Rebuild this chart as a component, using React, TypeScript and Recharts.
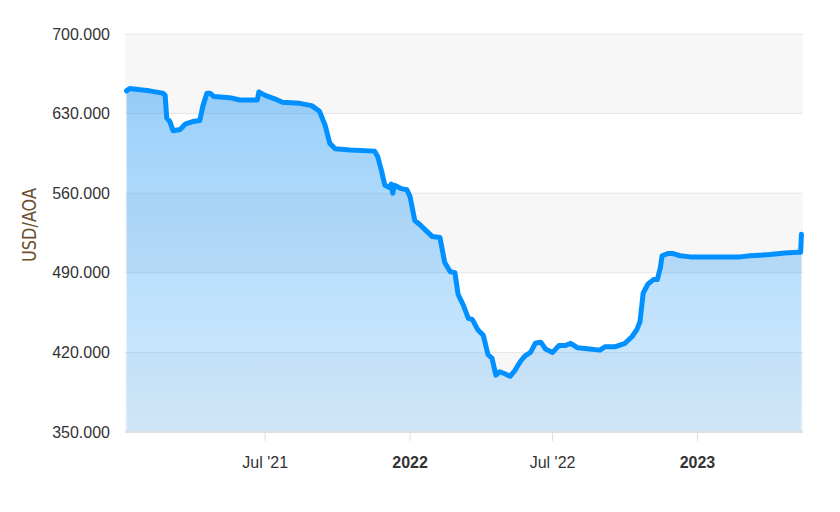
import React from "react";
import {
  AreaChart,
  Area,
  XAxis,
  YAxis,
  CartesianGrid,
} from "recharts";

const dates = [
  "2021-01-06", "2021-01-10", "2021-01-23", "2021-02-04", "2021-02-21", "2021-02-24",
  "2021-02-26", "2021-03-02", "2021-03-06", "2021-03-15", "2021-03-22", "2021-03-31",
  "2021-04-09", "2021-04-13", "2021-04-18", "2021-04-22", "2021-04-27", "2021-05-17",
  "2021-05-30", "2021-06-21", "2021-06-23", "2021-07-01", "2021-07-13", "2021-07-23",
  "2021-08-14", "2021-08-29", "2021-09-08", "2021-09-15", "2021-09-21", "2021-09-28",
  "2021-10-17", "2021-11-17", "2021-11-21", "2021-11-26", "2021-11-30", "2021-12-06",
  "2021-12-08", "2021-12-10", "2021-12-12", "2021-12-15", "2021-12-21", "2021-12-28",
  "2022-01-01", "2022-01-07", "2022-01-14", "2022-01-20", "2022-01-29", "2022-02-08",
  "2022-02-14", "2022-02-21", "2022-02-27", "2022-03-03", "2022-03-10", "2022-03-16",
  "2022-03-21", "2022-03-28", "2022-04-04", "2022-04-10", "2022-04-15", "2022-04-20",
  "2022-04-25", "2022-05-02", "2022-05-08", "2022-05-14", "2022-05-21", "2022-05-27",
  "2022-06-03", "2022-06-09", "2022-06-16", "2022-06-22", "2022-07-01", "2022-07-09",
  "2022-07-17", "2022-07-24", "2022-08-02", "2022-08-17", "2022-08-30", "2022-09-06",
  "2022-09-19", "2022-10-01", "2022-10-10", "2022-10-16", "2022-10-20", "2022-10-24",
  "2022-10-30", "2022-11-06", "2022-11-11", "2022-11-15", "2022-11-17", "2022-11-25",
  "2022-11-30", "2022-12-10", "2022-12-23", "2023-01-17", "2023-01-30", "2023-02-24",
  "2023-03-09", "2023-04-03", "2023-04-22", "2023-05-08", "2023-05-12", "2023-05-13",
];

const rates = [
  650, 652, 651, 650, 648, 646,
  626, 623, 615, 616, 621, 623,
  624, 637, 648, 648, 645, 644,
  642, 642, 649, 646, 643, 640,
  639, 637, 632, 620, 604, 599,
  598, 597, 592, 579, 567, 565,
  568, 560, 567, 566, 564, 563,
  557, 536, 532, 528, 522, 521,
  499, 491, 490, 471, 461, 450,
  449, 440, 435, 418, 415, 400,
  403, 401, 399, 404, 412, 417,
  420, 428, 429, 423, 420, 426,
  426, 428, 424, 423, 422, 425,
  425, 428, 434, 440, 447, 472,
  480, 484, 484, 495, 505, 507,
  507, 505, 504, 504, 504, 504,
  505, 506, 507.5, 508, 508, 524,
];

const yTicks = [350, 420, 490, 560, 630, 700];
const xTickDates = ["2021-07-01", "2022-01-01", "2022-07-01", "2023-01-01"];

const MONTHS = ["Jan", "Feb", "Mar", "Apr", "May", "Jun", "Jul", "Aug", "Sep", "Oct", "Nov", "Dec"];
const FONT = "'Liberation Sans', Arial, sans-serif";

const ts = (s: string) => {
  const [y, m, d] = s.split("-").map(Number);
  return Date.UTC(y, m - 1, d);
};

const data = dates.map((d, i) => ({ t: ts(d), rate: rates[i] }));
const xTicks = xTickDates.map(ts);

function XTick(props: any) {
  const { x, y, payload } = props;
  const dt = new Date(payload.value);
  const isYear = dt.getUTCMonth() === 0;
  const label = isYear
    ? String(dt.getUTCFullYear())
    : `${MONTHS[dt.getUTCMonth()]} '${String(dt.getUTCFullYear()).slice(2)}`;
  return (
    <text
      x={x}
      y={y + 25}
      textAnchor="middle"
      fill="#333333"
      fontSize={16}
      fontWeight={isYear ? 700 : 400}
      fontFamily={FONT}
    >
      {label}
    </text>
  );
}

function YLabel() {
  return (
    <text
      x={0}
      y={0}
      transform="translate(36, 225) rotate(-90)"
      textAnchor="middle"
      fill="#6b4f2e"
      fontSize={19}
      fontFamily="'DejaVu Sans Condensed', 'Liberation Sans Narrow', sans-serif"
      textLength={74}
      lengthAdjust="spacingAndGlyphs"
    >
      USD/AOA
    </text>
  );
}

export default function App() {
  return (
    <div style={{ position: "absolute", left: 0, top: 0, width: 840, height: 512, background: "#fff" }}>
      <AreaChart
        width={840}
        height={512}
        data={data}
        margin={{ top: 34, right: 37, bottom: 50, left: 0 }}
      >
        <defs>
          <linearGradient id="fillGrad" x1="0" y1="0" x2="0" y2="1">
            <stop offset="0%" stopColor="rgb(30,150,245)" stopOpacity={0.45} />
            <stop offset="100%" stopColor="rgb(30,150,245)" stopOpacity={0.18} />
          </linearGradient>
        </defs>
        <CartesianGrid
          vertical={false}
          stroke="#e6e6e6"
          horizontalFill={["#f7f7f7", "#ffffff"]}
          fillOpacity={1}
        />
        <XAxis
          dataKey="t"
          type="number"
          scale="time"
          domain={[ts("2021-01-04"), ts("2023-05-15")]}
          ticks={xTicks}
          height={30}
          stroke="#e0e0e0"
          strokeWidth={2}
          tickSize={9}
          tickLine={{ stroke: "#dddddd", strokeWidth: 1 }}
          tick={<XTick />}
          interval={0}
        />
        <YAxis
          type="number"
          domain={[350, 700]}
          ticks={yTicks}
          width={125}
          axisLine={false}
          tickLine={false}
          tickMargin={9}
          tickFormatter={(v: number) => v.toFixed(3)}
          tick={{ fill: "#333333", fontSize: 16, fontFamily: FONT }}
          label={<YLabel />}
        />
        <Area
          type="linear"
          dataKey="rate"
          stroke="#0090ff"
          strokeWidth={5}
          strokeLinejoin="round"
          strokeLinecap="round"
          fill="url(#fillGrad)"
          fillOpacity={1}
          dot={false}
          activeDot={false}
          isAnimationActive={false}
        />
      </AreaChart>
    </div>
  );
}
